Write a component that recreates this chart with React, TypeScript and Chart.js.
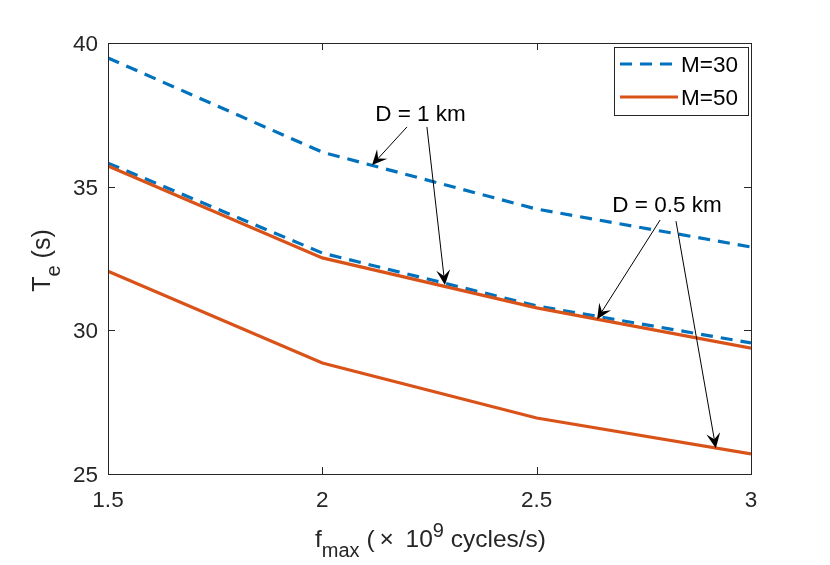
import React, { useEffect, useRef } from "react";
import { Chart, registerables } from "chart.js";

Chart.register(...registerables);

// ---- data ----
const xValues = [1.5, 2, 2.5, 3];
const m30D1 = [39.48, 36.2, 34.22, 32.9];
const m30D05 = [35.82, 32.69, 30.85, 29.56];
const m50D1 = [35.72, 32.52, 30.78, 29.38];
const m50D05 = [32.06, 28.86, 26.95, 25.7];

const xTicks = [1.5, 2, 2.5, 3];
const yTicks = [25, 30, 35, 40];
const legendLabels = ["M=30", "M=50"];

const annotationTexts = ["D = 1 km", "D = 0.5 km"];
const annotationAnchors = [
  [2.229, 37.285],
  [2.804, 34.12],
];
const arrowStarts = [
  [2.1975, 37.08],
  [2.244, 37.08],
  [2.788, 33.84],
  [2.825, 33.8],
];
const arrowTips = [
  [2.116, 35.75],
  [2.286, 31.58],
  [2.641, 30.39],
  [2.918, 25.9],
];

const BLUE = "#0072BD";
const ORANGE = "#D95319";
const AXIS = "#262626";
const FONT = '"Liberation Sans", Arial, Helvetica, sans-serif';

type Seg = { t: string; size: number; dy: number };

function drawRich(ctx: CanvasRenderingContext2D, segs: Seg[], x: number, y: number) {
  let total = 0;
  for (const s of segs) {
    ctx.font = `${s.size}px ${FONT}`;
    total += ctx.measureText(s.t).width;
  }
  let cx = x - total / 2;
  ctx.textAlign = "left";
  ctx.textBaseline = "alphabetic";
  for (const s of segs) {
    ctx.font = `${s.size}px ${FONT}`;
    ctx.fillText(s.t, cx, y + s.dy);
    cx += ctx.measureText(s.t).width;
  }
}

function drawArrow(ctx: CanvasRenderingContext2D, x0: number, y0: number, x1: number, y1: number) {
  const ang = Math.atan2(y1 - y0, x1 - x0);
  const L = 15;
  const W = 7;
  const notch = 0.6 * L;
  ctx.strokeStyle = "#000";
  ctx.lineWidth = 1;
  ctx.beginPath();
  ctx.moveTo(x0, y0);
  ctx.lineTo(x1 - Math.cos(ang) * notch, y1 - Math.sin(ang) * notch);
  ctx.stroke();
  const bx = x1 - Math.cos(ang) * L;
  const by = y1 - Math.sin(ang) * L;
  const nx = -Math.sin(ang);
  const ny = Math.cos(ang);
  ctx.fillStyle = "#000";
  ctx.beginPath();
  ctx.moveTo(x1, y1);
  ctx.lineTo(bx + nx * W, by + ny * W);
  ctx.lineTo(x1 - Math.cos(ang) * notch, y1 - Math.sin(ang) * notch);
  ctx.lineTo(bx - nx * W, by - ny * W);
  ctx.closePath();
  ctx.fill();
}

const decorPlugin = {
  id: "matlabDecor",
  afterDatasetsDraw(chart: any) {
    const ctx: CanvasRenderingContext2D = chart.ctx;
    const { left, right, top, bottom } = chart.chartArea;
    const xs = chart.scales.x;
    const ys = chart.scales.y;
    ctx.save();

    // annotations
    ctx.fillStyle = "#000";
    ctx.font = `22.5px ${FONT}`;
    ctx.textAlign = "center";
    ctx.textBaseline = "alphabetic";
    annotationTexts.forEach((t, i) => {
      const [ax, ay] = annotationAnchors[i];
      ctx.fillText(t, xs.getPixelForValue(ax), ys.getPixelForValue(ay));
    });
    arrowStarts.forEach((s, i) => {
      const e = arrowTips[i];
      drawArrow(
        ctx,
        xs.getPixelForValue(s[0]),
        ys.getPixelForValue(s[1]),
        xs.getPixelForValue(e[0]),
        ys.getPixelForValue(e[1])
      );
    });

    // axes box
    ctx.strokeStyle = AXIS;
    ctx.lineWidth = 1;
    ctx.strokeRect(Math.round(left) + 0.5, Math.round(top) + 0.5, Math.round(right - left), Math.round(bottom - top));

    // inward ticks
    const tl = 7;
    ctx.beginPath();
    xTicks.forEach((v) => {
      const px = Math.round(xs.getPixelForValue(v)) + 0.5;
      ctx.moveTo(px, bottom);
      ctx.lineTo(px, bottom - tl);
      ctx.moveTo(px, top);
      ctx.lineTo(px, top + tl);
    });
    yTicks.forEach((v) => {
      const py = Math.round(ys.getPixelForValue(v)) + 0.5;
      ctx.moveTo(left, py);
      ctx.lineTo(left + tl, py);
      ctx.moveTo(right, py);
      ctx.lineTo(right - tl, py);
    });
    ctx.stroke();

    // tick labels
    ctx.fillStyle = AXIS;
    ctx.font = `22.5px ${FONT}`;
    ctx.textBaseline = "alphabetic";
    ctx.textAlign = "center";
    xTicks.forEach((v) => {
      ctx.fillText(String(v), xs.getPixelForValue(v), bottom + 33);
    });
    ctx.textAlign = "right";
    yTicks.forEach((v) => {
      ctx.fillText(String(v), left - 10, ys.getPixelForValue(v) + 8);
    });

    // axis titles
    drawRich(
      ctx,
      [
        { t: "f", size: 24.5, dy: 0 },
        { t: "max", size: 20, dy: 10 },
        { t: " (\u2009\u00d7\u2009 10", size: 24.5, dy: 0 },
        { t: "9", size: 20, dy: -10 },
        { t: " cycles/s)", size: 24.5, dy: 0 },
      ],
      (left + right) / 2 + 1,
      547
    );
    ctx.save();
    ctx.translate(50, (top + bottom) / 2 + 2);
    ctx.rotate(-Math.PI / 2);
    drawRich(
      ctx,
      [
        { t: "T", size: 25, dy: 0 },
        { t: "e", size: 20, dy: 10 },
        { t: " (s)", size: 25, dy: 0 },
      ],
      0,
      0
    );
    ctx.restore();

    // legend
    const lx0 = right - 137;
    const ly0 = top + 4;
    const lw = 134;
    const lh = 68;
    ctx.fillStyle = "#fff";
    ctx.fillRect(lx0, ly0, lw, lh);
    ctx.strokeStyle = AXIS;
    ctx.lineWidth = 1;
    ctx.strokeRect(lx0 + 0.5, ly0 + 0.5, lw, lh);
    const styles = [
      { color: BLUE, dash: [12, 8] },
      { color: ORANGE, dash: [] as number[] },
    ];
    legendLabels.forEach((lab, i) => {
      const yy = ly0 + 17 + i * 33;
      ctx.strokeStyle = styles[i].color;
      ctx.lineWidth = 3.2;
      ctx.setLineDash(styles[i].dash);
      ctx.beginPath();
      ctx.moveTo(lx0 + 6, yy);
      ctx.lineTo(lx0 + 64, yy);
      ctx.stroke();
      ctx.setLineDash([]);
      ctx.fillStyle = "#000";
      ctx.font = `22.5px ${FONT}`;
      ctx.textAlign = "left";
      ctx.textBaseline = "alphabetic";
      ctx.fillText(lab, lx0 + 67, yy + 8);
    });

    ctx.restore();
  },
};

export default function App() {
  const ref = useRef<HTMLCanvasElement | null>(null);

  useEffect(() => {
    document.body.style.margin = "0";
    if (!ref.current) return;
    const toPts = (ys: number[]) => xValues.map((x, i) => ({ x, y: ys[i] }));
    const chart = new Chart(ref.current, {
      type: "line",
      data: {
        datasets: [
          { label: "M=30", data: toPts(m30D1), borderColor: BLUE, borderDash: [12, 8], borderWidth: 3.2, pointRadius: 0, order: 2, tension: 0 },
          { label: "M=30", data: toPts(m30D05), borderColor: BLUE, borderDash: [12, 8], borderWidth: 3.2, pointRadius: 0, order: 2, tension: 0 },
          { label: "M=50", data: toPts(m50D1), borderColor: ORANGE, borderWidth: 3.2, pointRadius: 0, order: 1, tension: 0 },
          { label: "M=50", data: toPts(m50D05), borderColor: ORANGE, borderWidth: 3.2, pointRadius: 0, order: 1, tension: 0 },
        ],
      },
      options: {
        animation: false,
        responsive: false,
        devicePixelRatio: window.devicePixelRatio || 1,
        layout: { padding: { left: 108, right: 79, top: 43, bottom: 91 } },
        plugins: { legend: { display: false }, tooltip: { enabled: false } },
        scales: {
          x: { type: "linear", min: 1.5, max: 3, display: false },
          y: { type: "linear", min: 25, max: 40, display: false },
        },
      },
      plugins: [decorPlugin],
    });
    return () => chart.destroy();
  }, []);

  return (
    <div style={{ width: 830, height: 565, background: "#fff" }}>
      <canvas ref={ref} width={830} height={565} style={{ display: "block" }} />
    </div>
  );
}
